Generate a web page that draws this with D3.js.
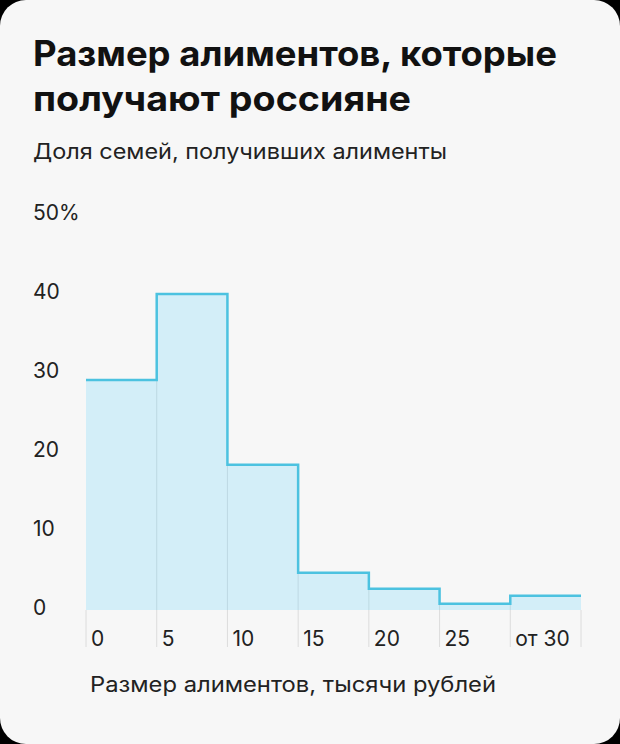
<!DOCTYPE html><html><head><meta charset="utf-8"><script src="https://cdn.jsdelivr.net/npm/d3@7"></script>
<style>body{margin:0;background:#000}text{font-family:Inter,Roboto,sans-serif}</style></head><body><svg id="c" width="620" height="744"></svg>
<script>
const categories=["0","5","10","15","20","25","от 30"];
const values=[29.1,40,18.4,4.7,2.7,0.8,1.8];
const yTicks=[0,10,20,30,40,50];
const svg=d3.select("#c");
svg.append("rect").attr("width",620).attr("height",744).attr("rx",26).attr("fill","#f7f7f7");
svg.append("text").attr("x",33).attr("y",66).attr("font-size",35).attr("font-weight",700).attr("fill","#111").attr("textLength",524).attr("lengthAdjust","spacingAndGlyphs").text("Размер алиментов, которые");
svg.append("text").attr("x",33).attr("y",111).attr("font-size",35).attr("font-weight",700).attr("fill","#111").attr("textLength",378).attr("lengthAdjust","spacingAndGlyphs").text("получают россияне");
svg.append("text").attr("x",33).attr("y",159).attr("font-size",21).attr("fill","#222").attr("textLength",414).attr("lengthAdjust","spacingAndGlyphs").text("Доля семей, получивших алименты");
const x=d3.scaleLinear().domain([0,7]).range([86,581]);
const y=d3.scaleLinear().domain([0,50]).range([610,215]);
yTicks.forEach(t=>svg.append("text").attr("x",33).attr("y",y(t)+5).attr("font-size",21).attr("fill","#222").text(t===50?"50%":t));
svg.selectAll(".g").data(d3.range(8)).join("line").attr("x1",d=>x(d)).attr("x2",d=>x(d)).attr("y1",610).attr("y2",647).attr("stroke","#dcdcdc").attr("stroke-width",1);
svg.selectAll(".b").data(values).join("rect").attr("x",(d,i)=>x(i)).attr("width",x(1)-x(0)).attr("y",d=>y(d)).attr("height",d=>y(0)-y(d)).attr("fill","#d3eef8");
svg.selectAll(".g2").data(d3.range(1,7)).join("line").attr("x1",d=>x(d)).attr("x2",d=>x(d)).attr("y1",d=>y(Math.min(values[d-1],values[d]))).attr("y2",610).attr("stroke","#bcd9e3").attr("stroke-width",1);
const pts=[];values.forEach((v,i)=>{pts.push([x(i),y(v)]);pts.push([x(i+1),y(v)]);});
svg.append("path").attr("d",d3.line()(pts)).attr("fill","none").attr("stroke","#4cc2e0").attr("stroke-width",2.5);
svg.selectAll(".xl").data(categories).join("text").attr("x",(d,i)=>x(i)+5).attr("y",646).attr("font-size",21).attr("fill","#222").text(d=>d);
svg.append("text").attr("x",90).attr("y",692).attr("font-size",21).attr("fill","#222").attr("textLength",406).attr("lengthAdjust","spacingAndGlyphs").text("Размер алиментов, тысячи рублей");
</script></body></html>
